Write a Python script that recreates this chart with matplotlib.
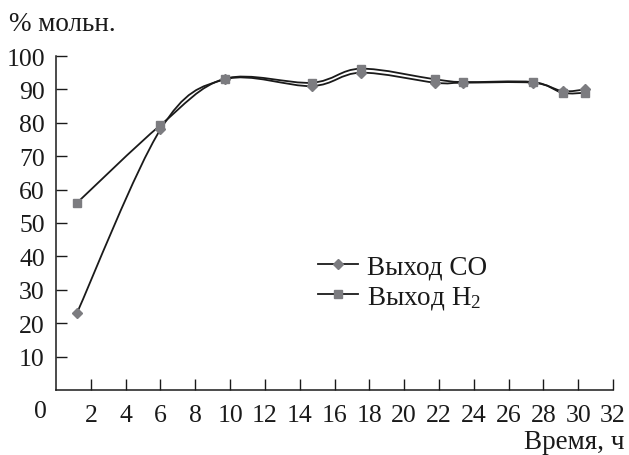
import matplotlib
matplotlib.use('Agg')
import matplotlib.pyplot as plt
import numpy as np
from matplotlib.path import Path
from matplotlib.patches import PathPatch
from matplotlib.lines import Line2D

# data
time_co = [1.2, 6.0, 9.7, 14.7, 17.5, 21.8, 23.4, 27.4, 29.1, 30.4]
yield_co = [23, 78, 93, 91, 95, 92, 92, 92, 89.5, 90]
time_h2 = [1.2, 6.0, 9.7, 14.7, 17.5, 21.8, 23.4, 27.4, 29.1, 30.4]
yield_h2 = [56, 79.3, 93.2, 92, 96.2, 93, 92.2, 92.2, 89, 89]

x_ticks = list(range(2, 33, 2))
y_ticks = list(range(10, 101, 10))

plt.rcParams['font.family'] = ['Liberation Serif', 'DejaVu Serif']
plt.rcParams['mathtext.fontset'] = 'custom'
plt.rcParams['mathtext.rm'] = 'Liberation Serif'
plt.rcParams['mathtext.it'] = 'Liberation Serif:italic'
plt.rcParams['mathtext.default'] = 'regular'

marker_grey = '#7c7c80'
ink = '#1a1a1a'
fs_tick = 18.5
fs_text = 19.5


def smooth_path(xs, ys):
    # excel-like smoothed line: bezier segments through every point
    p = np.column_stack([xs, ys]).astype(float)
    n = len(p)
    verts = [p[0]]
    codes = [Path.MOVETO]
    for i in range(n - 1):
        p0 = p[i - 1] if i > 0 else p[i]
        p3 = p[i + 2] if i + 2 < n else p[i + 1]
        c1 = p[i] + (p[i + 1] - p0) / 6.0
        c2 = p[i + 1] - (p3 - p[i]) / 6.0
        verts += [c1, c2, p[i + 1]]
        codes += [Path.CURVE4] * 3
    return Path(verts, codes)


fig = plt.figure(figsize=(6.29, 4.56), dpi=100)
ax = fig.add_axes([56 / 629, 1 - 391 / 456, (613 - 56) / 629, (391 - 57) / 456])

for xs, ys, mk, ms in [(time_co, yield_co, 'D', 5.0), (time_h2, yield_h2, 's', 6.2)]:
    ax.add_patch(PathPatch(smooth_path(xs, ys), facecolor='none', edgecolor=ink, lw=1.3, zorder=2))
    ax.plot(xs, ys, ls='none', marker=mk, ms=ms, mfc=marker_grey, mec=marker_grey, zorder=3)

ax.set_xlim(0, 32)
ax.set_ylim(0, 100)
ax.set_xticks(x_ticks)
ax.set_yticks(y_ticks)
ax.tick_params(direction='in', length=8, width=1, colors=ink, labelsize=fs_tick, labelcolor=ink)
ax.tick_params(axis='x', pad=10)
ax.tick_params(axis='y', pad=8)
for s in ['top', 'right']:
    ax.spines[s].set_visible(False)
for s in ['left', 'bottom']:
    ax.spines[s].set_linewidth(1.1)
    ax.spines[s].set_color(ink)

# shared origin label
ax.text(-0.9, -10 / 334, '0', transform=ax.get_xaxis_transform(), ha='center', va='top',
        fontsize=fs_tick, color=ink)

fig.text(9 / 629, 1 - 31 / 456, '% мольн.', fontsize=fs_text, color=ink, va='baseline', ha='left')
fig.text(625 / 629, 1 - 449 / 456, 'Время, ч', fontsize=fs_text, color=ink, va='baseline', ha='right')

handles = [
    Line2D([], [], color=ink, lw=1.3, marker='D', ms=5.0, mfc=marker_grey, mec=marker_grey),
    Line2D([], [], color=ink, lw=1.3, marker='s', ms=6.2, mfc=marker_grey, mec=marker_grey),
]
fig.legend(handles, ['Выход CO', 'Выход H$_2$'], loc='center left',
           bbox_to_anchor=(318 / 629, 1 - 284 / 456), frameon=False, fontsize=fs_text,
           handlelength=1.47, handletextpad=0.33, labelspacing=0.18, borderpad=0, borderaxespad=0,
           labelcolor=ink)

fig.savefig('out.png', dpi=100)
